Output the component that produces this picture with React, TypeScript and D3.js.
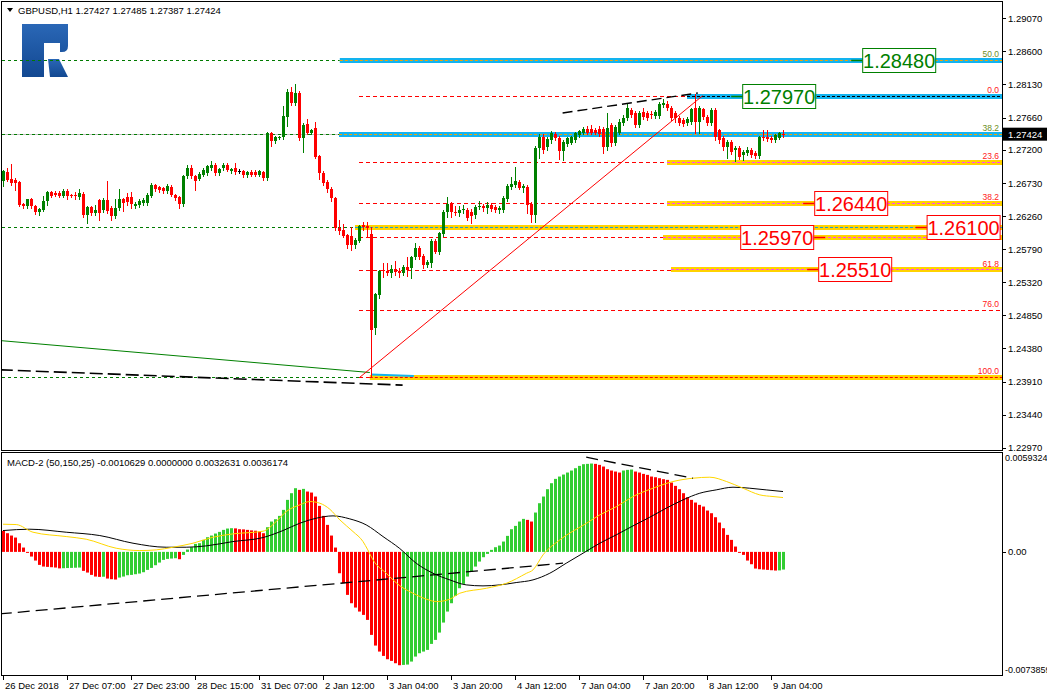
import * as d3 from "d3";

const W = 1047;
const H = 696;
const FONT = "'Liberation Sans', Arial, sans-serif";

// hourly GBPUSD bars, 26 Dec 15:00 .. 9 Jan 07:00  [open, high, low, close]
const ohlc: [number, number, number, number][] = [
  [1.26752, 1.26918, 1.26681, 1.26894], [1.26882, 1.26941, 1.26752, 1.26776], [1.2679, 1.27, 1.26705, 1.26728], [1.26776, 1.268, 1.26634, 1.26728],
  [1.26738, 1.2676, 1.264, 1.26421], [1.2643, 1.26445, 1.26374, 1.26397], [1.26397, 1.2651, 1.2637, 1.265], [1.265, 1.2652, 1.2638, 1.26397],
  [1.26405, 1.2642, 1.2629, 1.26315], [1.26315, 1.2638, 1.2628, 1.26365], [1.2635, 1.2654, 1.2633, 1.26478], [1.26468, 1.2661, 1.2642, 1.266],
  [1.266, 1.2662, 1.2653, 1.2655], [1.26587, 1.2661, 1.2654, 1.26563], [1.2659, 1.2661, 1.2653, 1.2655], [1.2655, 1.2664, 1.2653, 1.2662],
  [1.2662, 1.2664, 1.265, 1.26539], [1.26563, 1.2658, 1.2653, 1.2655], [1.26563, 1.266, 1.265, 1.26539], [1.2653, 1.2664, 1.2651, 1.26587],
  [1.26575, 1.266, 1.2625, 1.26279], [1.26279, 1.264, 1.26161, 1.26385], [1.26385, 1.264, 1.2628, 1.26303], [1.26303, 1.2642, 1.2628, 1.2635],
  [1.26492, 1.2651, 1.262, 1.26303], [1.2635, 1.2652, 1.2632, 1.26492], [1.26492, 1.2676, 1.263, 1.26326], [1.26374, 1.264, 1.262, 1.26256],
  [1.26256, 1.265, 1.2623, 1.26374], [1.26374, 1.2664, 1.2635, 1.26505], [1.26505, 1.2652, 1.2633, 1.26445], [1.26527, 1.2659, 1.2642, 1.26455],
  [1.26527, 1.266, 1.2638, 1.26433], [1.26397, 1.2646, 1.2637, 1.26433], [1.26421, 1.265, 1.2639, 1.2648], [1.26445, 1.2652, 1.2642, 1.26492],
  [1.26445, 1.2659, 1.2642, 1.26563], [1.2655, 1.2673, 1.2653, 1.26705], [1.26695, 1.2672, 1.2662, 1.26643], [1.2667, 1.2669, 1.266, 1.26625],
  [1.26657, 1.2668, 1.2659, 1.2661], [1.2661, 1.2672, 1.2659, 1.26681], [1.2667, 1.267, 1.2654, 1.26563], [1.26563, 1.2658, 1.2649, 1.26516],
  [1.26525, 1.2654, 1.2637, 1.2643], [1.2643, 1.2685, 1.2641, 1.26833], [1.26823, 1.2699, 1.268, 1.26941], [1.26941, 1.2699, 1.268, 1.26823],
  [1.26823, 1.2684, 1.26634, 1.26752], [1.2679, 1.2688, 1.2677, 1.2686], [1.2685, 1.2694, 1.2683, 1.26918], [1.2687, 1.2699, 1.2685, 1.26965],
  [1.26941, 1.27036, 1.2692, 1.26989], [1.26989, 1.2701, 1.2685, 1.2687], [1.2687, 1.2695, 1.2685, 1.2693], [1.26941, 1.2701, 1.2692, 1.26989],
  [1.26989, 1.2701, 1.269, 1.26918], [1.26894, 1.2695, 1.2687, 1.2693], [1.2695, 1.2701, 1.2686, 1.26885], [1.269, 1.2693, 1.2687, 1.269],
  [1.269, 1.2692, 1.2682, 1.2684], [1.2684, 1.269, 1.2682, 1.2688], [1.2689, 1.2691, 1.2683, 1.26847], [1.2689, 1.2691, 1.2683, 1.26847],
  [1.26847, 1.2692, 1.2683, 1.269], [1.2688, 1.269, 1.2678, 1.26799], [1.26802, 1.2746, 1.2678, 1.27441], [1.27441, 1.2746, 1.2725, 1.27328],
  [1.27328, 1.274, 1.273, 1.27385], [1.27375, 1.274, 1.2736, 1.27385], [1.27385, 1.2783, 1.2736, 1.27683], [1.27669, 1.2806, 1.2754, 1.28023],
  [1.28023, 1.28095, 1.2784, 1.27867], [1.27867, 1.28137, 1.2784, 1.28009], [1.28009, 1.2804, 1.2734, 1.2737], [1.2737, 1.2758, 1.2717, 1.27555],
  [1.27569, 1.2764, 1.2743, 1.27441], [1.27441, 1.275, 1.2742, 1.27484], [1.27512, 1.276, 1.2708, 1.27101], [1.27115, 1.2713, 1.2679, 1.26873],
  [1.26873, 1.269, 1.267, 1.26731], [1.26746, 1.2678, 1.266, 1.26646], [1.26646, 1.2668, 1.2648, 1.26518], [1.26518, 1.2653, 1.2606, 1.26092],
  [1.26092, 1.262, 1.26, 1.2605], [1.26064, 1.2615, 1.2596, 1.25979], [1.25993, 1.2601, 1.258, 1.25851], [1.25979, 1.261, 1.2578, 1.25851],
  [1.25851, 1.2595, 1.258, 1.25922], [1.25908, 1.2614, 1.2589, 1.26121], [1.2613, 1.2618, 1.2606, 1.26106], [1.26121, 1.2617, 1.2598, 1.26092],
  [1.26, 1.261, 1.2397, 1.24644], [1.24672, 1.2517, 1.2458, 1.25155], [1.25141, 1.255, 1.251, 1.25482], [1.25496, 1.256, 1.2539, 1.25475],
  [1.25482, 1.256, 1.2542, 1.25454], [1.25454, 1.2556, 1.254, 1.2551], [1.2551, 1.2562, 1.2543, 1.25468], [1.25482, 1.2552, 1.254, 1.25454],
  [1.25454, 1.2557, 1.2542, 1.25539], [1.25539, 1.2568, 1.2541, 1.25496], [1.25525, 1.257, 1.2538, 1.25681], [1.25681, 1.2588, 1.2565, 1.25808],
  [1.25808, 1.2583, 1.2565, 1.25681], [1.25695, 1.2572, 1.2552, 1.25567], [1.25567, 1.2564, 1.2554, 1.2561], [1.25596, 1.2593, 1.2554, 1.25908],
  [1.25908, 1.2594, 1.2574, 1.25752], [1.25752, 1.2604, 1.2572, 1.26021], [1.26007, 1.2634, 1.2598, 1.2632], [1.2632, 1.26533, 1.2625, 1.26433],
  [1.26433, 1.2646, 1.2625, 1.2632], [1.2632, 1.264, 1.2628, 1.26316], [1.26305, 1.264, 1.2626, 1.26348], [1.2634, 1.2642, 1.263, 1.26362],
  [1.26348, 1.2638, 1.262, 1.26234], [1.2632, 1.2636, 1.2616, 1.26263], [1.26277, 1.2642, 1.2624, 1.26391], [1.26391, 1.2647, 1.2636, 1.26405],
  [1.26405, 1.2643, 1.2633, 1.26376], [1.26376, 1.2646, 1.263, 1.26419], [1.26419, 1.2644, 1.2633, 1.26362], [1.26391, 1.2642, 1.2632, 1.26348],
  [1.26348, 1.264, 1.263, 1.26376], [1.26348, 1.2654, 1.2632, 1.26518], [1.26504, 1.2672, 1.2648, 1.26689], [1.26675, 1.26817, 1.2665, 1.26717],
  [1.26703, 1.26959, 1.2668, 1.2676], [1.26746, 1.2678, 1.2664, 1.2666], [1.2666, 1.2672, 1.266, 1.26689], [1.26675, 1.267, 1.263, 1.26419],
  [1.26433, 1.2646, 1.26178, 1.26277], [1.26277, 1.2726, 1.2618, 1.27228], [1.27228, 1.2742, 1.27086, 1.27385], [1.27385, 1.2742, 1.2716, 1.272],
  [1.27243, 1.2738, 1.272, 1.27356], [1.27342, 1.2747, 1.273, 1.27441], [1.27427, 1.2746, 1.2734, 1.2737], [1.2737, 1.274, 1.2707, 1.27186],
  [1.27186, 1.2734, 1.2706, 1.2732], [1.2729, 1.2739, 1.2726, 1.2737], [1.27299, 1.274, 1.2728, 1.27385], [1.27342, 1.2746, 1.2732, 1.27441],
  [1.27413, 1.2749, 1.2739, 1.2747], [1.27441, 1.2752, 1.2742, 1.27498], [1.27498, 1.2754, 1.2742, 1.27441], [1.27498, 1.2756, 1.2742, 1.27441],
  [1.27484, 1.2751, 1.2742, 1.27441], [1.27498, 1.2754, 1.274, 1.27427], [1.27498, 1.2753, 1.2715, 1.27243], [1.27243, 1.27725, 1.272, 1.27512],
  [1.27555, 1.2758, 1.2725, 1.27299], [1.27299, 1.2756, 1.2727, 1.27527], [1.27441, 1.2764, 1.2742, 1.27598], [1.27583, 1.277, 1.2756, 1.27654],
  [1.27654, 1.27867, 1.2762, 1.27796], [1.27768, 1.278, 1.2767, 1.27697], [1.27725, 1.2776, 1.2753, 1.27555], [1.27555, 1.2776, 1.2752, 1.27725],
  [1.2774, 1.278, 1.2764, 1.27668], [1.27725, 1.2776, 1.2762, 1.27654], [1.27711, 1.2775, 1.2765, 1.27697], [1.27683, 1.2777, 1.2765, 1.2774],
  [1.27683, 1.2788, 1.2766, 1.27853], [1.27839, 1.2792, 1.2781, 1.27867], [1.27853, 1.2789, 1.2777, 1.27796], [1.27796, 1.2782, 1.2762, 1.27654],
  [1.27725, 1.2776, 1.276, 1.27654], [1.27654, 1.2768, 1.2755, 1.27583], [1.27626, 1.2765, 1.2754, 1.27569], [1.27583, 1.2767, 1.2756, 1.2764],
  [1.27598, 1.278, 1.2757, 1.27782], [1.278, 1.28, 1.2744, 1.276], [1.27598, 1.2782, 1.2744, 1.27796], [1.27782, 1.278, 1.2764, 1.27668],
  [1.27668, 1.277, 1.2756, 1.27583], [1.27583, 1.2779, 1.2756, 1.27768], [1.27768, 1.278, 1.2734, 1.27385], [1.27484, 1.275, 1.273, 1.27342],
  [1.2737, 1.274, 1.272, 1.27243], [1.27243, 1.2734, 1.2708, 1.27313], [1.27313, 1.2734, 1.2714, 1.27172], [1.272, 1.2726, 1.2705, 1.27228],
  [1.27228, 1.2726, 1.2707, 1.27101], [1.27129, 1.272, 1.2706, 1.27172], [1.27157, 1.2724, 1.2713, 1.272], [1.272, 1.2723, 1.271, 1.27129],
  [1.27157, 1.2718, 1.2708, 1.27115], [1.27115, 1.274, 1.2709, 1.27385], [1.27385, 1.2748, 1.2734, 1.2737], [1.27385, 1.2748, 1.2733, 1.27356],
  [1.2737, 1.274, 1.2732, 1.27342], [1.27342, 1.2743, 1.2732, 1.27413], [1.2737, 1.2746, 1.2735, 1.27441], [1.27427, 1.27485, 1.27387, 1.27424],
];

// MACD-2 (50,150,25) histogram, one value per bar
const macdHist = [
  0.00126, 0.00112, 0.00098, 0.00086, 0.00052, 0.00026, -0.00004, -0.00028, -0.00052, -0.00078,
  -0.00088, -0.0009, -0.00092, -0.00094, -0.00099, -0.00098, -0.00097, -0.00096, -0.00095, -0.00094,
  -0.00114, -0.00124, -0.00138, -0.00148, -0.0015, -0.00149, -0.0016, -0.00164, -0.00166, -0.00154,
  -0.00148, -0.0014, -0.00138, -0.00134, -0.0013, -0.00122, -0.00108, -0.00096, -0.0008, -0.00064,
  -0.00048, -0.00042, -0.0004, -0.00038, -0.00044, -0.00018, 0.00014, 0.00028, 0.00048, 0.00052,
  0.00072, 0.00088, 0.00098, 0.0011, 0.0012, 0.00132, 0.0014, 0.00142, 0.00141, 0.00136,
  0.00135, 0.00132, 0.00129, 0.00127, 0.00122, 0.00112, 0.00148, 0.00182, 0.00196, 0.00216,
  0.00252, 0.00312, 0.00352, 0.00382, 0.00372, 0.00378, 0.00362, 0.00356, 0.00332, 0.00276,
  0.00216, 0.00162, 0.00098, 0.00026, -0.00128, -0.00188, -0.00258, -0.00308, -0.00334, -0.00358,
  -0.00378, -0.00408, -0.00498, -0.00562, -0.00598, -0.00624, -0.00644, -0.00654, -0.00668, -0.0068,
  -0.00678, -0.00676, -0.00658, -0.00628, -0.00608, -0.00598, -0.00588, -0.00552, -0.00528, -0.00484,
  -0.00424, -0.00358, -0.00308, -0.00264, -0.00218, -0.00192, -0.00148, -0.00118, -0.00088, -0.00058,
  -0.00032, -0.00012, 0.00012, 0.00028, 0.00038, 0.00062, 0.00096, 0.00136, 0.00156, 0.00182,
  0.00198, 0.00192, 0.00182, 0.00236, 0.00292, 0.00332, 0.00376, 0.00412, 0.00438, 0.00452,
  0.00464, 0.00476, 0.00488, 0.00502, 0.00516, 0.00526, 0.00528, 0.0053, 0.00528, 0.00522,
  0.00512, 0.00496, 0.00488, 0.00482, 0.00476, 0.00488, 0.00492, 0.00494, 0.00482, 0.00476,
  0.00468, 0.00462, 0.00452, 0.00448, 0.00442, 0.00436, 0.00432, 0.00416, 0.00396, 0.00376,
  0.00352, 0.00328, 0.00312, 0.00296, 0.00282, 0.00272, 0.00248, 0.00232, 0.00208, 0.00176,
  0.00142, 0.00102, 0.00072, 0.00032, -0.00004, -0.00018, -0.00052, -0.00074, -0.001, -0.00104,
  -0.00106, -0.00108, -0.0011, -0.00112, -0.00111, -0.00106,
];

// yellow and black MACD lines, read as [bar, value]
const macdYellow: [number, number][] = [
  [0, 0.00166], [3.3, 0.00164], [7.5, 0.00118], [15.8, 0.00092], [20.8, 0.00076], [28.3, 0.00022],
  [34.2, 0.00008], [38.3, 0.00012], [42.5, 0.00028], [47.5, 0.00052], [52.5, 0.00088], [57.5, 0.00108],
  [65, 0.00124], [68.3, 0.00182], [70.8, 0.00242], [74.2, 0.00282], [76.7, 0.00302], [79.2, 0.00292],
  [81.7, 0.00256], [84.2, 0.00192], [87.5, 0.00122], [90, 0.00062], [91.2, 0.00012], [92.5, -0.00048],
  [95.8, -0.00128], [99.2, -0.00203], [102.5, -0.00248], [105.9, -0.00284], [108.4, -0.00298],
  [111.7, -0.00284], [114.2, -0.00248], [120.9, -0.00218], [125.9, -0.00188], [130.9, -0.00128],
  [132.5, -0.00108], [135, -0.00018], [139.2, 0.00072], [145.9, 0.00172], [149.2, 0.00222],
  [153.4, 0.00272], [157.5, 0.00332], [162.5, 0.00382], [167.5, 0.00422], [172.5, 0.00442],
  [176.7, 0.00448], [180.9, 0.00422], [185, 0.00382], [189.2, 0.00342], [192.5, 0.00332], [195, 0.00326],
];
const macdBlack: [number, number][] = [
  [0, 0.00128], [6.7, 0.00136], [15.8, 0.00118], [24.2, 0.00098], [32.5, 0.00052], [40.8, 0.00028],
  [45.8, 0.00028], [50.8, 0.00036], [57.5, 0.00062], [65, 0.00086], [70, 0.00128], [74.2, 0.00172],
  [78.3, 0.00202], [82.5, 0.00216], [86.7, 0.00198], [90.8, 0.00162], [95, 0.00092], [99.2, 0.0002],
  [103.3, -0.00068], [107.5, -0.00128], [111.7, -0.00168], [115.8, -0.00198], [120, -0.00204],
  [124.2, -0.00198], [128.3, -0.00184], [132.5, -0.00168], [136.7, -0.00128], [140.8, -0.00068],
  [145, -0.00008], [149.2, 0.00052], [153.3, 0.00102], [157.5, 0.00156], [161.7, 0.00208],
  [165.8, 0.00262], [170, 0.00312], [174.2, 0.00352], [178.3, 0.00372], [182.5, 0.00388],
  [186.7, 0.00382], [190.8, 0.00372], [195, 0.00362],
];
// dashed trend lines on the MACD window
const macdTrends: [number, number][][] = [
  [[-0.8, -0.00372], [140, -0.00068]],
  [[145.8, 0.00568], [172.5, 0.00442]],
];

const timeTicks: [number, string][] = [
  [0, "26 Dec 2018"], [16, "27 Dec 07:00"], [32, "27 Dec 23:00"], [48, "28 Dec 15:00"],
  [64, "31 Dec 07:00"], [80, "2 Jan 12:00"], [96, "3 Jan 04:00"], [112, "3 Jan 20:00"],
  [128, "4 Jan 12:00"], [144, "7 Jan 04:00"], [160, "7 Jan 20:00"], [176, "8 Jan 12:00"],
  [192, "9 Jan 04:00"],
];
const priceTicks = [1.2907, 1.286, 1.2813, 1.2766, 1.272, 1.2673, 1.2626, 1.2579, 1.2532, 1.2485, 1.2438, 1.2391, 1.2344, 1.2297];
const lastPrice = 1.27424;

// fibonacci grid from the 2 Jan low to the 7 Jan high
const fibLow = 1.2397;
const fibHigh = 1.2797;
const fibStartBar = 89;
const fibRatios = [0, 23.6, 38.2, 50, 61.8, 76, 100];
const fibHiddenLabels = [50]; // sits under the 1.26100 tag
const upperFib: [number, string][] = [[1.2848, "50.0"], [1.2742, "38.2"]];

// highlighted levels: price, first bar, band kind
const bands: { price: number; from: number; kind: "blue" | "yellow"; dash: string }[] = [
  { price: 1.2848, from: 84.2, kind: "blue", dash: "#f5a300" },
  { price: 1.2797, from: 171, kind: "blue", dash: "#000" },
  { price: 1.2742, from: 84, kind: "blue", dash: "#f5a300" },
  { price: 1.27026, from: 166, kind: "yellow", dash: "#ff40ff" },
  { price: 1.26442, from: 166, kind: "yellow", dash: "#ff40ff" },
  { price: 1.261, from: 88, kind: "yellow", dash: "#1e9fd6" },
  { price: 1.2597, from: 165, kind: "yellow", dash: "#ff40ff" },
  { price: 1.2551, from: 167, kind: "yellow", dash: "#ff40ff" },
  { price: 1.2397, from: 91.7, kind: "yellow", dash: "#ff0000" },
];
// green dotted support levels from the left edge: price, last bar
const greenLevels: [number, number][] = [[1.2848, 84.2], [1.2742, 84], [1.261, 88], [1.2397, 89]];

// text tags: price, anchor bar, colour, connector side
const priceTags: { price: number; bar: number; color: string; side: "left" | "right" }[] = [
  { price: 1.2848, bar: 214.8, color: "#008000", side: "left" },
  { price: 1.2797, bar: 184.8, color: "#008000", side: "left" },
  { price: 1.2644, bar: 202.8, color: "#ff0000", side: "left" },
  { price: 1.261, bar: 230.9, color: "#ff0000", side: "left" },
  { price: 1.2597, bar: 184.3, color: "#ff0000", side: "right" },
  { price: 1.2551, bar: 203.8, color: "#ff0000", side: "left" },
];

// trend lines on the price window: [bar, price] pairs
const greenTrend: [number, number][] = [[-0.8, 1.24492], [91.7, 1.24038]];
const blackTrendLow: [number, number][] = [[-0.8, 1.24076], [99.9, 1.23859]];
const blackTrendHigh: [number, number][] = [[139.9, 1.27725], [173.7, 1.28009]];
const redDiagonal: [number, number][] = [[89.2, 1.2397], [174.9, 1.2797]];
const blueStub: [number, number][] = [[92, 1.2401], [102.7, 1.2399]];

const fmt5 = (v: number) => v.toFixed(5);

export default function App() {
  const right = 1002;
  const x = d3.scaleLinear().domain([0, 195]).range([3, 783]);
  const y = d3.scaleLinear().domain([1.22937, 1.29302]).range([450, 2]);
  const ym = d3.scaleLinear().domain([-0.0073859, 0.0059324]).range([675, 453]);

  const pl = d3.line<[number, number]>().x((d) => x(d[0])).y((d) => y(d[1]));
  const ml = d3.line<[number, number]>().x((d) => x(d[0])).y((d) => ym(d[1])).curve(d3.curveMonotoneX);
  const mlStraight = d3.line<[number, number]>().x((d) => x(d[0])).y((d) => ym(d[1]));

  const up = "#008000";
  const down = "#ff0000";

  return (
    <svg width={W} height={H} style={{ position: "fixed", left: 0, top: 0 }} fontFamily={FONT}>
      <defs>
        <clipPath id="mainClip"><rect x={2} y={2} width={right - 2} height={448} /></clipPath>
        <clipPath id="macdClip"><rect x={2} y={453} width={right - 2} height={222} /></clipPath>
        <linearGradient id="logo" x1="0" y1="0" x2="0" y2="1">
          <stop offset="0" stopColor="#2a67b6" />
          <stop offset="1" stopColor="#124891" />
        </linearGradient>
      </defs>
      <rect width={W} height={H} fill="#fff" />

      {/* logo */}
      <g fill="url(#logo)">
        <path d="M22,24 H68 V46 Q68,52 62,52 H60 V43 H44 V77 H22 Z" />
        <path d="M48,59 H59 L68,77 H50 Z" />
      </g>

      {/* header */}
      <polygon points="7,8 13,8 10,12" fill="#000" />
      <text x={18} y={14} fontSize={9.5} fill="#000">GBPUSD,H1  1.27427 1.27485 1.27387 1.27424</text>

      <g clipPath="url(#mainClip)">
        {/* bid line */}
        <line x1={2} x2={right} y1={Math.round(y(lastPrice)) + 0.5} y2={Math.round(y(lastPrice)) + 0.5} stroke="#c0c0c0" />
        {greenLevels.map(([p, b], i) => (
          <line key={"g" + i} x1={2} x2={x(b)} y1={Math.round(y(p)) + 0.5} y2={Math.round(y(p)) + 0.5}
            stroke="#007a00" strokeDasharray="3,3" />
        ))}
        {/* fibonacci levels */}
        {fibRatios.map((r) => {
          const yy = Math.round(y(fibHigh - (r / 100) * (fibHigh - fibLow))) + 0.5;
          return <line key={"f" + r} x1={x(fibStartBar)} x2={right} y1={yy} y2={yy} stroke="#ff0000" strokeDasharray="4,3" />;
        })}
        {bands.map((b, i) => {
          const yy = Math.round(y(b.price)) + 0.5;
          return (
            <g key={"b" + i}>
              <rect x={x(b.from)} y={yy - 2.5} width={right - x(b.from)} height={5} fill={b.kind === "blue" ? "#12b3ef" : "#ffd200"} />
              <line x1={x(b.from)} x2={right} y1={yy} y2={yy} stroke={b.dash} strokeDasharray="3,2" />
            </g>
          );
        })}
        <path d={pl(blueStub) ?? ""} stroke="#12b3ef" strokeWidth={2} fill="none" />

        {/* candles */}
        {ohlc.map(([o, h, l, c], i) => {
          const cx = Math.round(x(i));
          const col = c > o ? up : c < o ? down : "#000";
          const top = Math.round(y(Math.max(o, c)));
          const bot = Math.round(y(Math.min(o, c)));
          return (
            <g key={"c" + i}>
              <line x1={cx + 0.5} x2={cx + 0.5} y1={Math.round(y(h))} y2={Math.round(y(l)) + 1} stroke={col} />
              <rect x={cx - 1} y={top} width={3} height={Math.max(1, bot - top)} fill={col} />
            </g>
          );
        })}

        {/* trend lines */}
        <path d={pl(greenTrend) ?? ""} stroke="#008000" fill="none" />
        <path d={pl(blackTrendLow) ?? ""} stroke="#000" strokeWidth={1.6} strokeDasharray="13,5" fill="none" />
        <path d={pl(blackTrendHigh) ?? ""} stroke="#000" strokeWidth={1.4} strokeDasharray="10,5" fill="none" />
        <path d={pl(redDiagonal) ?? ""} stroke="#ff0000" fill="none" />

        {/* fibonacci labels */}
        {fibRatios.filter((r) => !fibHiddenLabels.includes(r)).map((r) => (
          <text key={"fl" + r} x={999} y={y(fibHigh - (r / 100) * (fibHigh - fibLow)) - 3} fontSize={8.5}
            textAnchor="end" fill="#ff2020">{r.toFixed(1)}</text>
        ))}
        {upperFib.map(([p, t]) => (
          <text key={"uf" + t} x={999} y={y(p) - 3} fontSize={8.5} textAnchor="end" fill="#6b8e23">{t}</text>
        ))}

        {/* price tags */}
        {priceTags.map((t, i) => {
          const x0 = x(t.bar);
          const yy = Math.round(y(t.price)) + 0.5;
          const cx = t.side === "left" ? x0 - 11 : x0 + 74;
          return (
            <g key={"t" + i}>
              <line x1={cx} x2={cx + 11} y1={yy} y2={yy} stroke={t.color} strokeWidth={1.5} />
              <rect x={x0 + 0.5} y={yy - 12} width={73} height={24} fill="#fff" stroke={t.color} />
              <text x={x0 + 37} y={yy + 7.5} fontSize={20} textAnchor="middle" fill={t.color}>{fmt5(t.price)}</text>
            </g>
          );
        })}
      </g>

      {/* MACD window */}
      <g clipPath="url(#macdClip)">
        {macdHist.map((v, i) => {
          const cx = Math.round(x(i));
          const col = i > 0 && v > macdHist[i - 1] ? "#32cd32" : "#ff0000";
          const y0 = ym(0);
          const y1 = ym(v);
          return <rect key={"h" + i} x={cx - 1} y={Math.min(y0, y1)} width={3} height={Math.max(1, Math.abs(y1 - y0))} fill={col} />;
        })}
        <path d={ml(macdBlack) ?? ""} stroke="#000" fill="none" />
        <path d={ml(macdYellow) ?? ""} stroke="#ffd700" fill="none" />
        {macdTrends.map((seg, i) => (
          <path key={"mt" + i} d={mlStraight(seg) ?? ""} stroke="#000" strokeWidth={1.3} strokeDasharray="12,6" fill="none" />
        ))}
      </g>
      <text x={7} y={466} fontSize={9.5} fill="#000">MACD-2 (50,150,25) -0.0010629 0.0000000 0.0032631 0.0036174</text>

      {/* frames */}
      <rect x={1.5} y={1.5} width={right - 1} height={449} fill="none" stroke="#000" />
      <rect x={1.5} y={452.5} width={right - 1} height={223} fill="none" stroke="#000" />

      {/* price axis */}
      {priceTicks.map((t) => (
        <g key={"pt" + t}>
          <line x1={right} x2={right + 4} y1={Math.round(y(t)) + 0.5} y2={Math.round(y(t)) + 0.5} stroke="#000" />
          <text x={right + 6} y={y(t) + 3.5} fontSize={9.5} fill="#000">{fmt5(t)}</text>
        </g>
      ))}
      <rect x={right + 1} y={y(lastPrice) - 6.5} width={W - right - 1} height={13} fill="#000" />
      <text x={right + 6} y={y(lastPrice) + 3.5} fontSize={9.5} fill="#fff">{fmt5(lastPrice)}</text>

      {/* MACD axis */}
      <line x1={right} x2={right + 4} y1={Math.round(ym(0)) + 0.5} y2={Math.round(ym(0)) + 0.5} stroke="#000" />
      <text x={right + 3} y={ym(0.0059324) + 8} fontSize={9} fill="#000">0.0059324</text>
      <text x={right + 6} y={ym(0) + 3.5} fontSize={9.5} fill="#000">0.00</text>
      <text x={right + 3} y={ym(-0.0073859) - 2} fontSize={9} fill="#000">-0.0073859</text>

      {/* time axis */}
      {timeTicks.map(([b, label]) => (
        <g key={"tt" + b}>
          <line x1={Math.round(x(b)) + 0.5} x2={Math.round(x(b)) + 0.5} y1={676} y2={680} stroke="#000" />
          <text x={x(b) + 2} y={689} fontSize={9.5} fill="#000">{label}</text>
        </g>
      ))}
    </svg>
  );
}
